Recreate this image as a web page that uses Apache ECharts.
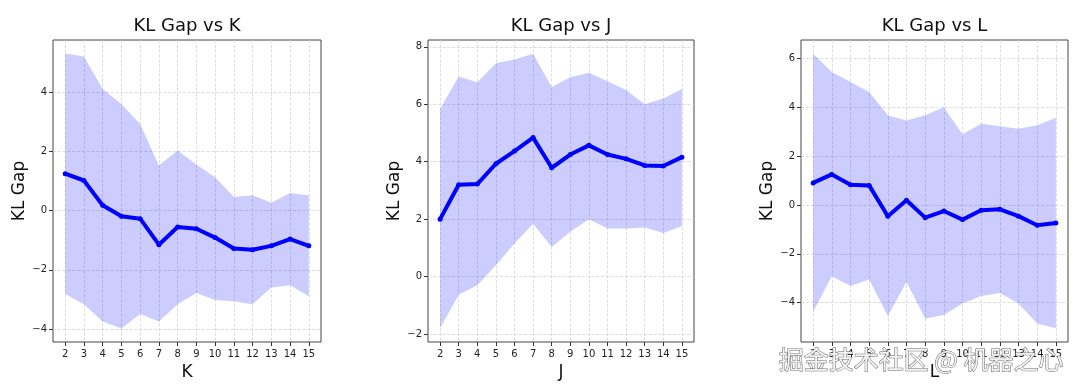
<!DOCTYPE html>
<html>
<head>
<meta charset="utf-8">
<script src="https://cdn.jsdelivr.net/npm/echarts@6/dist/echarts.min.js"></script>
<style>
html,body{margin:0;padding:0;background:#fff;}
#chart{width:1080px;height:390px;}
</style>
</head>
<body>
<div id="chart"></div>
<script>
// ---- data ----
const xValues = [2, 3, 4, 5, 6, 7, 8, 9, 10, 11, 12, 13, 14, 15];

const kMean  = [1.25, 1.02, 0.18, -0.19, -0.27, -1.15, -0.55, -0.61, -0.91, -1.28, -1.32, -1.19, -0.96, -1.19];
const kUpper = [5.31, 5.21, 4.11, 3.61, 2.93, 1.53, 2.03, 1.56, 1.13, 0.46, 0.52, 0.27, 0.60, 0.52];
const kLower = [-2.82, -3.16, -3.75, -3.98, -3.49, -3.75, -3.16, -2.78, -3.02, -3.06, -3.16, -2.60, -2.52, -2.89];

const jMean  = [2.00, 3.20, 3.22, 3.93, 4.37, 4.84, 3.79, 4.25, 4.57, 4.25, 4.10, 3.87, 3.85, 4.16];
const jUpper = [5.84, 6.97, 6.77, 7.43, 7.56, 7.76, 6.60, 6.94, 7.10, 6.80, 6.50, 6.00, 6.20, 6.53];
const jLower = [-1.80, -0.63, -0.30, 0.39, 1.15, 1.84, 1.03, 1.56, 2.00, 1.67, 1.67, 1.71, 1.52, 1.75];

const lMean  = [0.90, 1.25, 0.83, 0.80, -0.46, 0.19, -0.52, -0.25, -0.60, -0.22, -0.18, -0.46, -0.83, -0.74];
const lUpper = [6.19, 5.44, 5.03, 4.62, 3.67, 3.46, 3.67, 4.00, 2.89, 3.32, 3.22, 3.12, 3.26, 3.57];
const lLower = [-4.37, -2.92, -3.32, -3.05, -4.55, -3.15, -4.65, -4.51, -4.03, -3.73, -3.60, -4.03, -4.85, -5.05];

const kYTicks = [-4, -2, 0, 2, 4];
const jYTicks = [-2, 0, 2, 4, 6, 8];
const lYTicks = [-4, -2, 0, 2, 4, 6];

const titles = ['KL Gap vs K', 'KL Gap vs J', 'KL Gap vs L'];
const xNames = ['K', 'J', 'L'];
const yName = 'KL Gap';

// ---- layout / style ----
const panels = [
  { left: 53,  width: 268, mean: kMean, up: kUpper, lo: kLower, yt: kYTicks, ymin: -4.44, ymax: 5.77 },
  { left: 428, width: 266, mean: jMean, up: jUpper, lo: jLower, yt: jYTicks, ymin: -2.28, ymax: 8.24 },
  { left: 801, width: 267, mean: lMean, up: lUpper, lo: lLower, yt: lYTicks, ymin: -5.61, ymax: 6.75 }
];
const TOP = 40, HEIGHT = 302;
const FONT = '"DejaVu Sans", sans-serif';
const minusFmt = v => String(v).replace('-', '\u2212');

const grid = [], xAxis = [], yAxis = [], series = [], title = [];
panels.forEach((p, i) => {
  grid.push({ left: p.left, top: TOP, width: p.width, height: HEIGHT, show: true,
    borderColor: '#444', borderWidth: 1, backgroundColor: 'transparent', containLabel: false });
  title.push({ text: titles[i], left: p.left + p.width / 2, top: 17, textAlign: 'center', padding: 0,
    textStyle: { fontFamily: FONT, fontSize: 18, fontWeight: 'normal', color: '#111' } });
  xAxis.push({ type: 'value', gridIndex: i, min: 1.35, max: 15.65,
    name: xNames[i], nameLocation: 'middle', nameGap: 17,
    nameTextStyle: { fontFamily: FONT, fontSize: 17, color: '#111' },
    axisLine: { show: false, onZero: false },
    axisTick: { show: true, length: 4, customValues: xValues, lineStyle: { color: '#333' } },
    axisLabel: { customValues: xValues, fontFamily: FONT, fontSize: 10, color: '#222', margin: 7 },
    splitLine: { show: true, lineStyle: { color: '#d6d6d6', type: 'dashed', width: 0.8 } } });
  yAxis.push({ type: 'value', gridIndex: i, min: p.ymin, max: p.ymax,
    name: yName, nameLocation: 'middle', nameGap: 25,
    nameTextStyle: { fontFamily: FONT, fontSize: 17, color: '#111' },
    axisLine: { show: false, onZero: false },
    axisTick: { show: true, length: 4, customValues: p.yt, lineStyle: { color: '#333' } },
    axisLabel: { customValues: p.yt, formatter: minusFmt, fontFamily: FONT, fontSize: 10, color: '#222', margin: 6 },
    splitLine: { show: true, lineStyle: { color: '#d6d6d6', type: 'dashed', width: 0.8 } } });
  // shaded band (fill_between) drawn through the axis scales
  series.push({ type: 'custom', xAxisIndex: i, yAxisIndex: i, silent: true, z: 1, clip: true,
    data: xValues.map((x, k) => [x, p.lo[k], p.up[k]]),
    encode: { x: 0, y: [1, 2] },
    renderItem: (params, api) => {
      if (params.dataIndex !== 0) return null;
      const pts = [];
      xValues.forEach((x, k) => pts.push(api.coord([x, p.up[k]])));
      for (let k = xValues.length - 1; k >= 0; k--) pts.push(api.coord([xValues[k], p.lo[k]]));
      return { type: 'polygon', shape: { points: pts },
        style: { fill: 'rgba(0,0,255,0.2)', stroke: 'none' } };
    } });
  series.push({ type: 'line', xAxisIndex: i, yAxisIndex: i,
    data: xValues.map((x, k) => [x, p.mean[k]]), symbol: 'circle', symbolSize: 5, showSymbol: true,
    lineStyle: { color: '#0000ff', width: 4 }, itemStyle: { color: '#0000ff', borderWidth: 0 }, z: 3 });
});

const chart = echarts.init(document.getElementById('chart'), null, { renderer: 'canvas' });
chart.setOption({
  animation: false,
  backgroundColor: '#fff',
  title, grid, xAxis, yAxis, series,
  graphic: [{
    type: 'text', right: 16, top: 346, z: 100,
    style: { text: '掘金技术社区 @ 机器之心', fontFamily: '"Noto Sans CJK SC", sans-serif', fontSize: 25,
      fill: '#f2f2f2', stroke: '#6a6a6a', lineWidth: 1 }
  }]
});
</script>
</body>
</html>
